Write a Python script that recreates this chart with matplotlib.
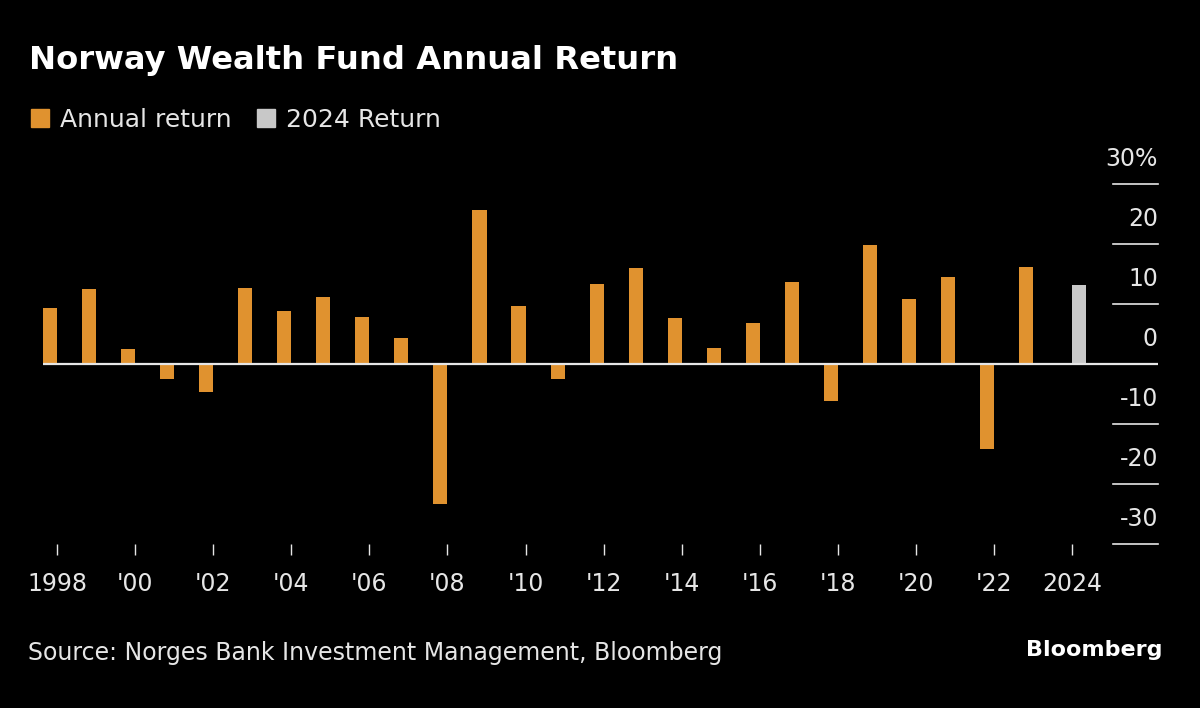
import matplotlib
matplotlib.use("Agg")
import matplotlib.pyplot as plt
import matplotlib.transforms as mtransforms
from matplotlib.patches import Patch

years = list(range(1998, 2025))
returns = [9.3, 12.5, 2.5, -2.5, -4.7, 12.6, 8.9, 11.1, 7.9, 4.3, -23.3, 25.6,
           9.6, -2.5, 13.4, 16.0, 7.6, 2.7, 6.9, 13.7, -6.1, 19.9, 10.9, 14.5,
           -14.1, 16.1, 13.1]
highlight_year = 2024
tick_years = list(range(1998, 2025, 2))
tick_labels = ["1998", "'00", "'02", "'04", "'06", "'08", "'10", "'12", "'14",
               "'16", "'18", "'20", "'22", "2024"]
y_ticks = [30, 20, 10, 0, -10, -20, -30]
y_labels = ["30%", "20", "10", "0", "-10", "-20", "-30"]

title = "Norway Wealth Fund Annual Return"
legend_labels = ["Annual return", "2024 Return"]
source = "Source: Norges Bank Investment Management, Bloomberg"

ORANGE = "#E0922F"
GRAY = "#C8C8C8"
TEXT = "#E6E6E6"
BG = "#000000"

plt.rcParams['font.family'] = ['DejaVu Sans']

fig = plt.figure(figsize=(12, 7.08), dpi=100, facecolor=BG)
ax = fig.add_axes([43/1200, 1 - 544/708, (1158-43)/1200, (544-184)/708])
ax.set_facecolor(BG)

BW = 0.36
hist_x = [y for y in years if y != highlight_year]
hist_v = [v for y, v in zip(years, returns) if y != highlight_year]
hl_v = [v for y, v in zip(years, returns) if y == highlight_year]
# historical bars end at the tick; the highlighted bar starts at its tick
ax.bar(hist_x, hist_v, width=-BW, align='edge', color=ORANGE, zorder=2)
ax.bar([highlight_year], hl_v, width=BW, align='edge', color=GRAY, zorder=2)

ax.set_xlim(1998 - BW, 2026.2)
ax.set_ylim(-30, 30)

for s in ax.spines.values():
    s.set_visible(False)

ax.set_xticks(tick_years)
ax.set_xticklabels(tick_labels, fontsize=17, color=TEXT)
ax.tick_params(axis='x', length=8, width=1, color=TEXT, pad=12)
ax.set_yticks([])

ax.axhline(0, color=TEXT, lw=1.6, zorder=3)
trans = mtransforms.blended_transform_factory(ax.transAxes, ax.transData)
for v, lab in zip(y_ticks, y_labels):
    if v != 0:
        ax.plot([0.96, 1.0], [v, v], transform=trans, color=TEXT, lw=1.2,
                clip_on=False)
    ax.text(1.0, v + 2.15, lab, transform=trans, ha='right', va='bottom',
            fontsize=17, color=TEXT)

fig.text(29/1200, 1 - 60/708, title, fontsize=23.2, fontweight='bold',
         color='white', va='center', ha='left')

handles = [Patch(color=ORANGE), Patch(color=GRAY)]
leg = fig.legend(handles, legend_labels, loc='center left',
                 bbox_to_anchor=(31/1200, 1 - 120/708), ncol=2, frameon=False,
                 fontsize=18, handlelength=0.72, handleheight=0.72,
                 handletextpad=0.45, columnspacing=1.0, labelcolor=TEXT,
                 borderpad=0, borderaxespad=0)

fig.text(28/1200, 1 - 653/708, source, fontsize=17, color=TEXT,
         va='center', ha='left')
fig.text(1162/1200, 1 - 650/708, "Bloomberg", fontsize=16, fontweight='bold',
         color='white', va='center', ha='right')

fig.savefig("out.png", dpi=100, facecolor=BG)
